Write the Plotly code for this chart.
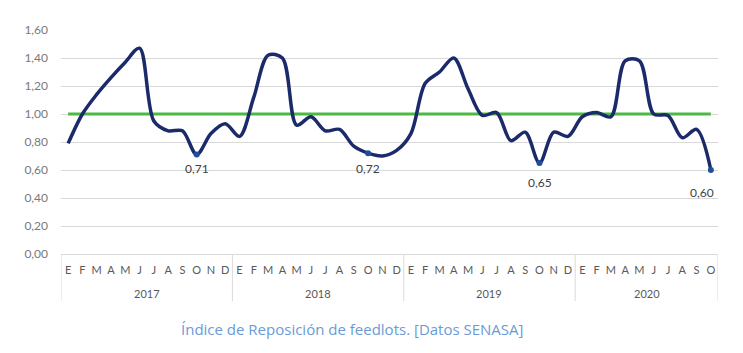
import plotly.graph_objects as go

years = ["2017", "2018", "2019", "2020"]
months_full = ["E", "F", "M", "A", "M", "J", "J", "A", "S", "O", "N", "D"]
months_per_year = [12, 12, 12, 10]

indice = [
    0.79, 1.00, 1.14, 1.26, 1.37, 1.47, 0.95, 0.88, 0.88, 0.71, 0.86, 0.93,
    0.84, 1.12, 1.42, 1.40, 0.92, 0.98, 0.88, 0.89, 0.77, 0.72, 0.70, 0.74,
    0.86, 1.22, 1.30, 1.40, 1.18, 0.99, 1.01, 0.81, 0.87, 0.65, 0.87, 0.84,
    0.98, 1.01, 0.98, 1.38, 1.38, 1.00, 0.99, 0.83, 0.89, 0.60,
]
referencia = 1.00
label_idx = [9, 21, 33, 45]

y_ticks = [0, 0.2, 0.4, 0.6, 0.8, 1.0, 1.2, 1.4, 1.6]
y_ticktext = [f"{v:.2f}".replace(".", ",") for v in y_ticks]

month_labels = []
for n in months_per_year:
    month_labels += months_full[:n]
x = list(range(len(month_labels)))

navy = "#1b2a6b"
green = "#4cb944"
grid = "#d9d9d9"
txt = "#595959"
font_fam = "Lato, Open Sans, sans-serif"

fig = go.Figure()
fig.add_trace(go.Scatter(
    x=x, y=[referencia] * len(x), mode="lines",
    line=dict(color=green, width=3.2), hoverinfo="skip", showlegend=False,
))
fig.add_trace(go.Scatter(
    x=x, y=indice, mode="lines",
    line=dict(color=navy, width=3.5, shape="spline", smoothing=0.9),
    showlegend=False,
))
fig.add_trace(go.Scatter(
    x=[x[i] for i in label_idx], y=[indice[i] for i in label_idx],
    mode="markers", marker=dict(color="#1f4e9c", size=6),
    showlegend=False, cliponaxis=False,
))

# data labels under the minimum points
label_shift = [(0, -14), (0, -15), (1, -19), (-9, -22)]
for i, (dx, dy) in zip(label_idx, label_shift):
    fig.add_annotation(
        x=x[i], y=indice[i], xref="x", yref="y",
        text=f"{indice[i]:.2f}".replace(".", ","), showarrow=False,
        xshift=dx, yshift=dy, yanchor="middle",
        font=dict(family=font_fam, size=12, color="#404040"),
    )

# year dividers and labels below the axis
bounds = [-0.5]
for n in months_per_year:
    bounds.append(bounds[-1] + n)
for b in bounds:
    fig.add_shape(type="line", xref="x", yref="paper", x0=b, x1=b, y0=0, y1=-0.21,
                  line=dict(color=grid, width=1))
for i, yr in enumerate(years):
    fig.add_annotation(x=(bounds[i] + bounds[i + 1]) / 2, xref="x",
                       y=-(293 - 254) / 224, yref="paper", yanchor="middle",
                       text=yr, showarrow=False,
                       font=dict(family=font_fam, size=11, color=txt))

fig.update_xaxes(
    range=[-0.5, len(x) - 0.5], tickmode="array", tickvals=x, ticktext=month_labels,
    showgrid=False, zeroline=False, showline=False, ticks="",
    tickfont=dict(family=font_fam, size=11, color=txt),
    ticklabelstandoff=8,
)
fig.update_yaxes(
    range=[0, 1.6], tickmode="array", tickvals=y_ticks, ticktext=y_ticktext,
    showgrid=True, gridcolor=grid, gridwidth=1, zeroline=True, zerolinecolor=grid,
    zerolinewidth=1, showline=False, ticks="",
    tickfont=dict(family=font_fam, size=12, color="#7a7a7a"),
    ticklabelstandoff=12,
)

fig.add_annotation(
    text="Índice de Reposición de feedlots. [Datos SENASA]",
    xref="paper", yref="paper", x=(352 - 61) / 657, y=-(329 - 254) / 224,
    xanchor="center", yanchor="middle", showarrow=False,
    font=dict(family="Open Sans, Lato, sans-serif", size=15, color="#6a9bd8"),
)

fig.update_layout(
    width=743, height=353,
    margin=dict(l=61, r=25, t=30, b=99),
    paper_bgcolor="white", plot_bgcolor="white",
)

fig.write_html("out.html")
